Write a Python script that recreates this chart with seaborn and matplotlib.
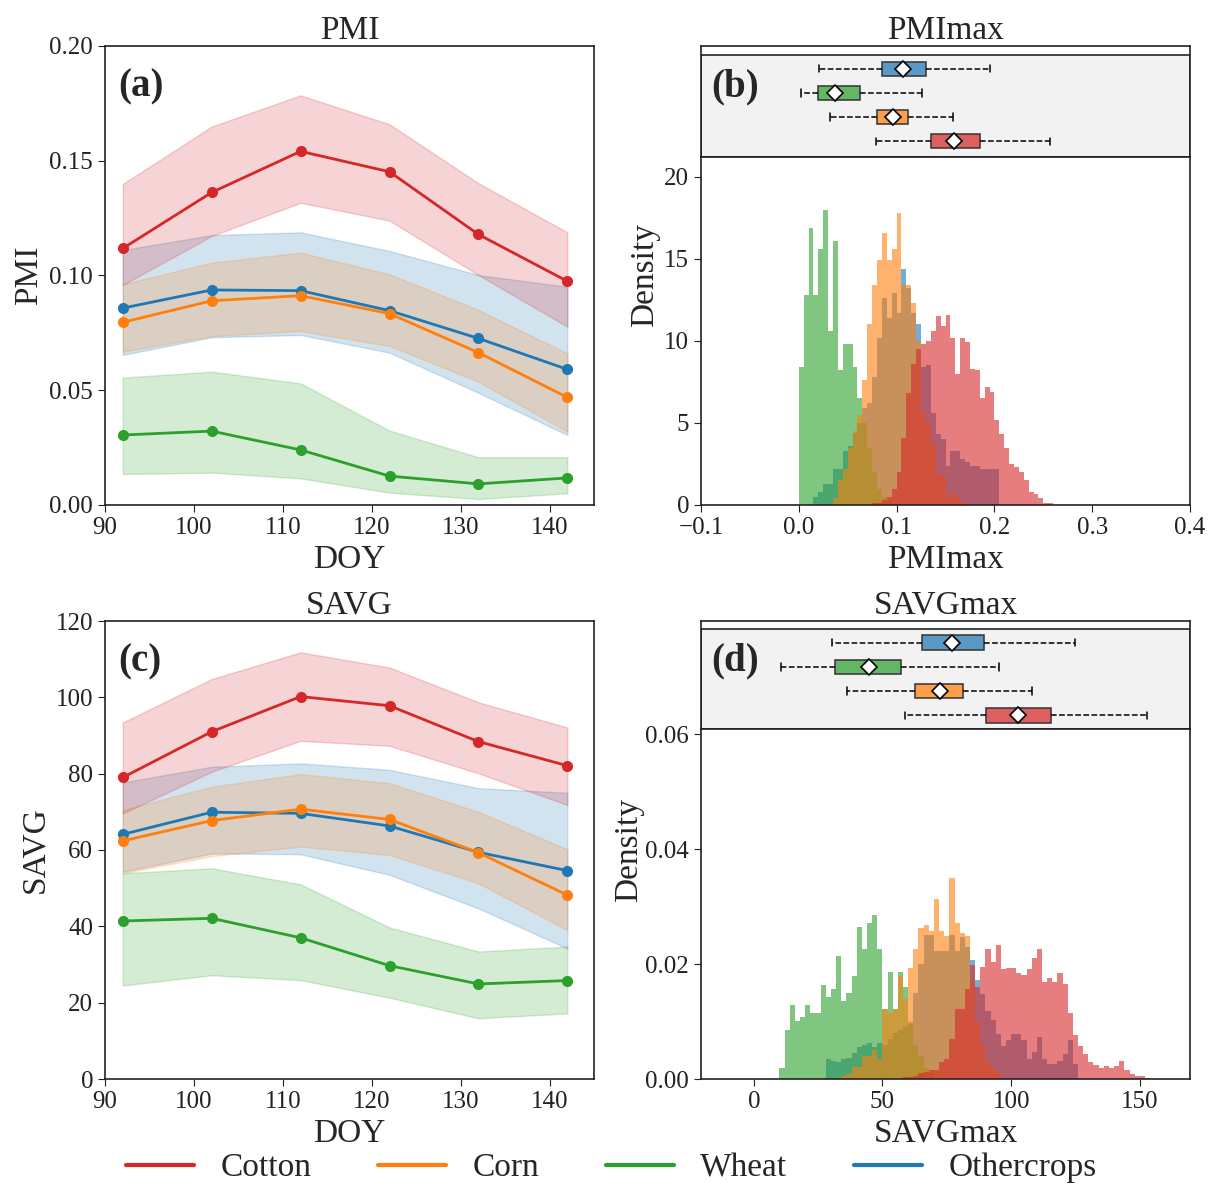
import numpy as np
import pandas as pd
import seaborn as sns
import matplotlib.pyplot as plt
from matplotlib.colors import to_rgba
from matplotlib.lines import Line2D

# ---- data ----
crops = ["Cotton", "Corn", "Wheat", "Othercrops"]
colors = {"Cotton": "#d62728", "Corn": "#ff7f0e", "Wheat": "#2ca02c", "Othercrops": "#1f77b4"}
doy = [92, 102, 112, 122, 132, 142]

# PMI time series: mean, lower and upper band
pmi_mean = {
    "Cotton": [0.1118, 0.1362, 0.1541, 0.1452, 0.1179, 0.0975],
    "Corn": [0.0796, 0.0890, 0.0912, 0.0834, 0.0664, 0.0469],
    "Wheat": [0.0305, 0.0322, 0.0240, 0.0126, 0.0092, 0.0118],
    "Othercrops": [0.0858, 0.0937, 0.0934, 0.0847, 0.0726, 0.0591],
}
pmi_low = {
    "Cotton": [0.0959, 0.1172, 0.1317, 0.1239, 0.1002, 0.0777],
    "Corn": [0.0668, 0.0736, 0.0758, 0.0693, 0.0537, 0.0320],
    "Wheat": [0.0135, 0.0141, 0.0116, 0.0054, 0.0026, 0.0051],
    "Othercrops": [0.0654, 0.0731, 0.0741, 0.0664, 0.0489, 0.0305],
}
pmi_high = {
    "Cotton": [0.1399, 0.1649, 0.1785, 0.1659, 0.1402, 0.1188],
    "Corn": [0.0962, 0.1056, 0.1100, 0.1005, 0.0850, 0.0661],
    "Wheat": [0.0555, 0.0581, 0.0530, 0.0324, 0.0208, 0.0208],
    "Othercrops": [0.1111, 0.1176, 0.1188, 0.1107, 0.1002, 0.0951],
}

# SAVG time series
savg_mean = {
    "Cotton": [79.0, 91.0, 100.2, 97.8, 88.4, 82.1],
    "Corn": [62.4, 67.7, 70.7, 68.0, 59.3, 48.2],
    "Wheat": [41.4, 42.1, 37.0, 29.7, 24.9, 25.8],
    "Othercrops": [64.1, 69.9, 69.6, 66.3, 59.4, 54.6],
}
savg_low = {
    "Cotton": [69.6, 80.5, 88.6, 87.3, 80.1, 71.8],
    "Corn": [53.9, 58.4, 60.9, 58.7, 51.3, 39.0],
    "Wheat": [24.5, 27.2, 25.9, 21.3, 15.9, 17.2],
    "Othercrops": [54.3, 59.1, 58.9, 53.5, 44.7, 34.2],
}
savg_high = {
    "Cotton": [93.4, 104.8, 111.8, 107.8, 98.7, 92.1],
    "Corn": [70.5, 76.6, 79.9, 77.5, 70.0, 60.2],
    "Wheat": [53.9, 55.2, 51.0, 39.7, 33.4, 34.7],
    "Othercrops": [77.7, 81.8, 82.7, 81.0, 76.2, 75.0],
}

# PMImax histogram densities, bins of 0.005 starting at 0
pmi_hist = {
    "Cotton": [0, 0, 0, 0, 0, 0, 0, 0, 0, 0, 0, 0, 0, 0, 0,
               0.1, 0.1, 0.3, 0.5, 1.0, 2.0, 4.1, 6.8, 8.6, 9.5, 9.8, 10.0, 10.6, 11.5, 10.9,
               11.6, 10.2, 8.0, 10.2, 9.9, 8.3, 8.2, 6.5, 7.2, 6.9, 5.2, 4.3, 3.5, 2.5, 2.3,
               2.0, 1.5, 0.8, 0.7, 0.4, 0.1, 0.1],
    "Corn": [0, 0, 0, 0, 0, 0, 0, 0.4, 1.5, 2.2, 3.5, 4.5, 5.5, 7.6, 11.0, 13.4, 14.9, 16.6,
             14.9, 15.6, 17.8, 13.4, 13.4, 12.3, 10.0, 5.6, 5.0, 3.7, 1.9, 1.8, 0.7, 0.7, 0.5, 0.2],
    "Wheat": [8.4, 12.8, 16.9, 12.8, 15.6, 18.0, 10.6, 16.1, 8.2, 9.8, 9.8, 8.4, 6.5, 5.0,
              3.5, 2.0, 1.0, 0.5, 0.2],
    "Othercrops": [0, 0, 0, 0.5, 0.8, 1.3, 1.3, 2.2, 2.2, 3.3, 3.6, 4.4, 5.0, 5.9, 6.2, 7.8,
                   10.2, 12.6, 11.4, 12.9, 11.7, 14.4, 13.2, 11.7, 11.0, 8.4, 8.5, 5.6, 4.3, 4.0,
                   2.4, 3.3, 3.3, 2.8, 2.6, 2.4, 2.4, 2.2, 2.2, 2.2, 2.2],
}

# SAVGmax histogram densities, bins of 2 starting at 10
savg_hist = {
    "Cotton": [0, 0, 0, 0, 0, 0, 0, 0, 0, 0, 0, 0, 0, 0, 0, 0, 0, 0, 0, 0, 0, 0, 0, 0,
               0.0003, 0.0003, 0.0005, 0.0010, 0.0012, 0.0015, 0.0015, 0.0030, 0.0035, 0.0070,
               0.0122, 0.0122, 0.0157, 0.0198, 0.0160, 0.0195, 0.0226, 0.0204, 0.0233, 0.0191,
               0.0194, 0.0194, 0.0185, 0.0181, 0.0191, 0.0210, 0.0226, 0.0169, 0.0175, 0.0169,
               0.0184, 0.0166, 0.0114, 0.0076, 0.0058, 0.0044, 0.0029, 0.0024, 0.0020, 0.0023,
               0.0020, 0.0023, 0.0032, 0.0015, 0.0009, 0.0005, 0.0005, 0.0002],
    "Corn": [0, 0, 0, 0, 0, 0, 0, 0, 0, 0, 0, 0,
             0.0005, 0.0009, 0.0021, 0.0021, 0.0040, 0.0040, 0.0050, 0.0035, 0.0122, 0.0114,
             0.0122, 0.0179, 0.0140, 0.0194, 0.0226, 0.0262, 0.0268, 0.0257, 0.0313, 0.0257,
             0.0248, 0.0350, 0.0271, 0.0254, 0.0248, 0.0170, 0.0100, 0.0060, 0.0030, 0.0020, 0.0010],
    "Wheat": [0.0020, 0.0085, 0.0128, 0.0101, 0.0108, 0.0128, 0.0114, 0.0114, 0.0163, 0.0143,
              0.0157, 0.0214, 0.0136, 0.0149, 0.0179, 0.0264, 0.0227, 0.0271, 0.0286, 0.0227,
              0.0122, 0.0187, 0.0122, 0.0187, 0.0160, 0.0100, 0.0060, 0.0040, 0.0020, 0.0010],
    "Othercrops": [0, 0, 0, 0, 0, 0, 0, 0, 0,
                   0.0035, 0.0032, 0.0030, 0.0035, 0.0037, 0.0045, 0.0055, 0.0060, 0.0062, 0.0055,
                   0.0062, 0.0060, 0.0070, 0.0080, 0.0085, 0.0090, 0.0095, 0.0150, 0.0200, 0.0250,
                   0.0250, 0.0222, 0.0222, 0.0222, 0.0250, 0.0222, 0.0247, 0.0230, 0.0207, 0.0173,
                   0.0148, 0.0119, 0.0103, 0.0079, 0.0058, 0.0067, 0.0079, 0.0079, 0.0067, 0.0035,
                   0.0047, 0.0073, 0.0035, 0.0026, 0.0026, 0.0032, 0.0044, 0.0067, 0.0026],
}

# box summaries: whislo, q1, median, q3, whishi, mean
box_order = ["Othercrops", "Wheat", "Corn", "Cotton"]
pmi_box = {
    "Othercrops": [0.021, 0.085, 0.105, 0.130, 0.195, 0.107],
    "Wheat": [0.002, 0.020, 0.036, 0.063, 0.126, 0.037],
    "Corn": [0.032, 0.080, 0.095, 0.112, 0.158, 0.096],
    "Cotton": [0.079, 0.135, 0.158, 0.185, 0.257, 0.159],
}
savg_box = {
    "Othercrops": [30.5, 65.3, 77.0, 89.5, 124.7, 76.9],
    "Wheat": [10.6, 31.6, 44.6, 57.4, 95.2, 44.8],
    "Corn": [36.4, 62.7, 72.4, 81.3, 108.0, 72.3],
    "Cotton": [58.7, 90.3, 102.6, 115.5, 152.6, 102.7],
}

# ---- style ----
sns.set_style("ticks")
plt.rcParams["font.family"] = ["Liberation Serif", "DejaVu Serif"]
plt.rcParams["axes.edgecolor"] = "#222222"
plt.rcParams["axes.linewidth"] = 1.2
plt.rcParams["xtick.color"] = "#222222"
plt.rcParams["ytick.color"] = "#222222"

TICK = 18
LABEL = 24
TITLE = 24

W, H = 1208, 1195
fig = plt.figure(figsize=(W / 100, H / 100), dpi=100)


def px_axes(left, top, right, bottom):
    return fig.add_axes([left / W, 1 - bottom / H, (right - left) / W, (bottom - top) / H])


def line_panel(ax, mean, low, high, ylim, yticks, ylabel, title, letter, fmt):
    rows = []
    for crop in crops[::-1]:
        ax.fill_between(doy, low[crop], high[crop], color=colors[crop], alpha=0.2, linewidth=1)
        for d, v in zip(doy, mean[crop]):
            rows.append({"DOY": d, "value": v, "crop": crop})
    df = pd.DataFrame(rows)
    sns.lineplot(data=df, x="DOY", y="value", hue="crop", hue_order=crops[::-1],
                 palette=colors, marker="o", markersize=8, markeredgewidth=0,
                 linewidth=2, legend=False, ax=ax)
    ax.set_xlim(90, 145)
    ax.set_ylim(*ylim)
    ax.set_xticks([90, 100, 110, 120, 130, 140])
    ax.set_yticks(yticks)
    ax.set_yticklabels([fmt.format(t) for t in yticks])
    ax.tick_params(labelsize=TICK, length=5)
    ax.set_xlabel("DOY", fontsize=LABEL)
    ax.set_ylabel(ylabel, fontsize=LABEL)
    ax.set_title(title, fontsize=TITLE, pad=5)
    ax.text(0.027, 0.91, letter, transform=ax.transAxes, fontsize=28,
            fontweight="bold", va="center", ha="left")


def box_panel(ax, box, ylim, gray_top, xlim, title, letter):
    stats = []
    for crop in box_order:
        lo, q1, med, q3, hi, mean = box[crop]
        stats.append({"whislo": lo, "q1": q1, "med": med, "q3": q3, "whishi": hi,
                      "mean": mean, "fliers": []})
    ax.axhspan(gray_top, ylim[0], facecolor="#f2f2f2", edgecolor="#222222", linewidth=1.2, zorder=0)
    bp = ax.bxp(stats, positions=range(len(box_order)), widths=0.6, orientation="horizontal",
                patch_artist=True, showmeans=True, showfliers=False, capwidths=0.3,
                meanprops=dict(marker="D", markerfacecolor="white", markeredgecolor="black",
                               markersize=8, markeredgewidth=1.2),
                medianprops=dict(color="#222222", linewidth=1.5),
                whiskerprops=dict(linestyle="--", color="black", linewidth=1.1),
                capprops=dict(color="black", linewidth=1.1),
                boxprops=dict(edgecolor="#333333", linewidth=1.1))
    for patch, crop in zip(bp["boxes"], box_order):
        patch.set_facecolor(to_rgba(colors[crop], 0.72))
    ax.set_ylim(*ylim)
    ax.set_xlim(*xlim)
    ax.set_xticks([])
    ax.set_yticks([])
    ax.set_title(title, fontsize=TITLE, pad=5)
    ax.text(0.02, 0.63, letter, transform=ax.transAxes, fontsize=28,
            fontweight="bold", va="center", ha="left")


def hist_panel(ax, hist, start, width, xlim, ylim, xticks, yticks, xlabel, yfmt, label_xy):
    rows = []
    for crop in crops:
        for k, v in enumerate(hist[crop]):
            rows.append({"x": start + width * (k + 0.5), "w": v, "crop": crop})
    df = pd.DataFrame(rows)
    top = start + width * max(len(v) for v in hist.values())
    sns.histplot(data=df, x="x", weights="w", hue="crop", hue_order=crops, palette=colors,
                 binwidth=width, binrange=(start, top), stat="count", element="step",
                 fill=True, alpha=0.6, linewidth=0, multiple="layer", legend=False, ax=ax)
    ax.set_xlim(*xlim)
    ax.set_ylim(*ylim)
    ax.set_xticks(xticks)
    ax.set_yticks(yticks)
    ax.set_yticklabels([yfmt.format(t) for t in yticks])
    ax.tick_params(labelsize=TICK, length=5)
    ax.set_xlabel(xlabel, fontsize=LABEL)
    ax.set_ylabel("Density", fontsize=LABEL)
    # label is centred on the box + histogram column
    ax.yaxis.set_label_coords(*label_xy)


# ---- panels ----
ax_a = px_axes(105, 46, 594, 505)
line_panel(ax_a, pmi_mean, pmi_low, pmi_high, (0, 0.2), [0, 0.05, 0.10, 0.15, 0.20],
           "PMI", "PMI", "(a)", "{:.2f}")

ax_c = px_axes(105, 621, 594, 1079)
line_panel(ax_c, savg_mean, savg_low, savg_high, (0, 120), [0, 20, 40, 60, 80, 100, 120],
           "SAVG", "SAVG", "(c)", "{:.0f}")

ax_b_box = px_axes(701, 46, 1190, 157)
box_panel(ax_b_box, pmi_box, (3.657, -0.946), -0.556, (-0.1, 0.4), "PMImax", "(b)")
ax_b = px_axes(701, 157, 1190, 505)
hist_panel(ax_b, pmi_hist, 0.0, 0.005, (-0.1, 0.4), (0, 21.2),
           [-0.1, 0.0, 0.1, 0.2, 0.3, 0.4], [0, 5, 10, 15, 20], "PMImax", "{:.0f}",
           (-0.084, 0.66))

ax_d_box = px_axes(701, 621, 1190, 729)
box_panel(ax_d_box, savg_box, (3.566, -0.897), -0.554, (-20.5, 169.5), "SAVGmax", "(d)")
ax_d = px_axes(701, 729, 1190, 1079)
hist_panel(ax_d, savg_hist, 10.0, 2.0, (-20.5, 169.5), (0, 0.0609),
           [0, 50, 100, 150], [0, 0.02, 0.04, 0.06], "SAVGmax", "{:.2f}",
           (-0.117, 0.654))

# ---- legend ----
handles = [Line2D([0], [0], color=colors[c], linewidth=3) for c in crops]
fig.legend(handles, crops, loc="center", bbox_to_anchor=(0.506, 1 - 1168 / H), ncol=4,
           frameon=False, fontsize=24, handlelength=2.05, handletextpad=0.78, columnspacing=2.0)

fig.savefig("out.png", dpi=100)
